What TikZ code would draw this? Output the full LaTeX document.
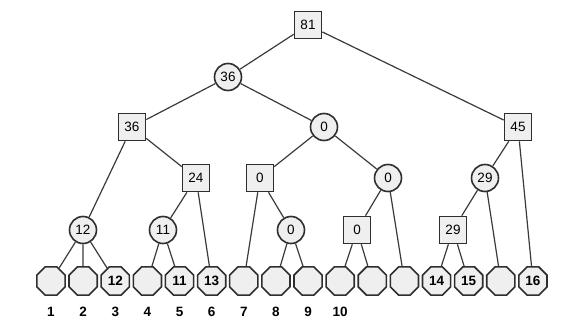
\documentclass[tikz,border=0pt]{standalone}
\usepackage{fontspec}
\setmainfont{Liberation Sans}
\usetikzlibrary{shapes.geometric}
\definecolor{nodefill}{HTML}{EFEFEF}
\definecolor{nodeline}{HTML}{2E2E2E}
\definecolor{edgeline}{HTML}{3A3A3A}
\begin{document}
\begin{tikzpicture}[x=1pt,y=-1pt,
  sq/.style={draw=nodeline,fill=nodefill,line width=1.6pt,minimum size=27pt,inner sep=0pt,font=\fontsize{13.5}{13.5}\selectfont},
  cir/.style={circle,draw=nodeline,fill=nodefill,line width=1.6pt,minimum size=27pt,inner sep=0pt,font=\fontsize{13.5}{13.5}\selectfont},
  leaf/.style={regular polygon,regular polygon sides=8,draw=nodeline,fill=nodefill,line width=1.6pt,minimum size=30.5pt,inner sep=0pt,font=\bfseries\fontsize{13.5}{13.5}\selectfont},
  lbl/.style={font=\bfseries\fontsize{13.5}{13.5}\selectfont,inner sep=0pt},
  edge/.style={draw=edgeline,line width=1.2pt}]
\useasboundingbox (0,0) rectangle (573,326);
% internal nodes
\node[sq]  (r)   at (308,25)  {81};
\node[cir] (c36) at (228,77)  {36};
\node[sq]  (s36) at (132,127) {36};
\node[cir] (c0a) at (324,127) {0};
\node[sq]  (s45) at (518,127) {45};
\node[sq]  (s24) at (196,178) {24};
\node[sq]  (s0a) at (260,178) {0};
\node[cir] (c0b) at (388,178) {0};
\node[cir] (c29) at (485,178) {29};
\node[cir] (c12) at (83,230)  {12};
\node[cir] (c11) at (163,230) {11};
\node[cir] (c0c) at (291,230) {0};
\node[sq]  (s0b) at (357,230) {0};
\node[sq]  (s29) at (453,230) {29};
% leaves
\foreach \i/\t in {1/,2/,3/12,4/,5/11,6/13,7/,8/,9/,10/,11/,12/,13/14,14/15,15/,16/16}{
  \node[leaf] (l\i) at ({51+32.13*(\i-1)},281) {\t};
}
\foreach \i in {1,...,10}{
  \node[lbl] (n\i) at ({51+32.13*(\i-1)},312) {\i};
}
% edges
\draw[edge] (r) -- (c36);
\draw[edge] (r) -- (s45);
\draw[edge] (c36) -- (s36);
\draw[edge] (c36) -- (c0a);
\draw[edge] (s36) -- (c12);
\draw[edge] (s36) -- (s24);
\draw[edge] (s24) -- (c11);
\draw[edge] (s24) -- (l6);
\draw[edge] (c0a) -- (s0a);
\draw[edge] (c0a) -- (c0b);
\draw[edge] (s0a) -- (l7);
\draw[edge] (s0a) -- (c0c);
\draw[edge] (c0c) -- (l8);
\draw[edge] (c0c) -- (l9);
\draw[edge] (c0b) -- (s0b);
\draw[edge] (c0b) -- (l12);
\draw[edge] (s0b) -- (l10);
\draw[edge] (s0b) -- (l11);
\draw[edge] (s45) -- (c29);
\draw[edge] (s45) -- (l16);
\draw[edge] (c29) -- (s29);
\draw[edge] (c29) -- (l15);
\draw[edge] (s29) -- (l13);
\draw[edge] (s29) -- (l14);
\draw[edge] (c12) -- (l1);
\draw[edge] (c12) -- (l2);
\draw[edge] (c12) -- (l3);
\draw[edge] (c11) -- (l4);
\draw[edge] (c11) -- (l5);
\end{tikzpicture}
\end{document}
